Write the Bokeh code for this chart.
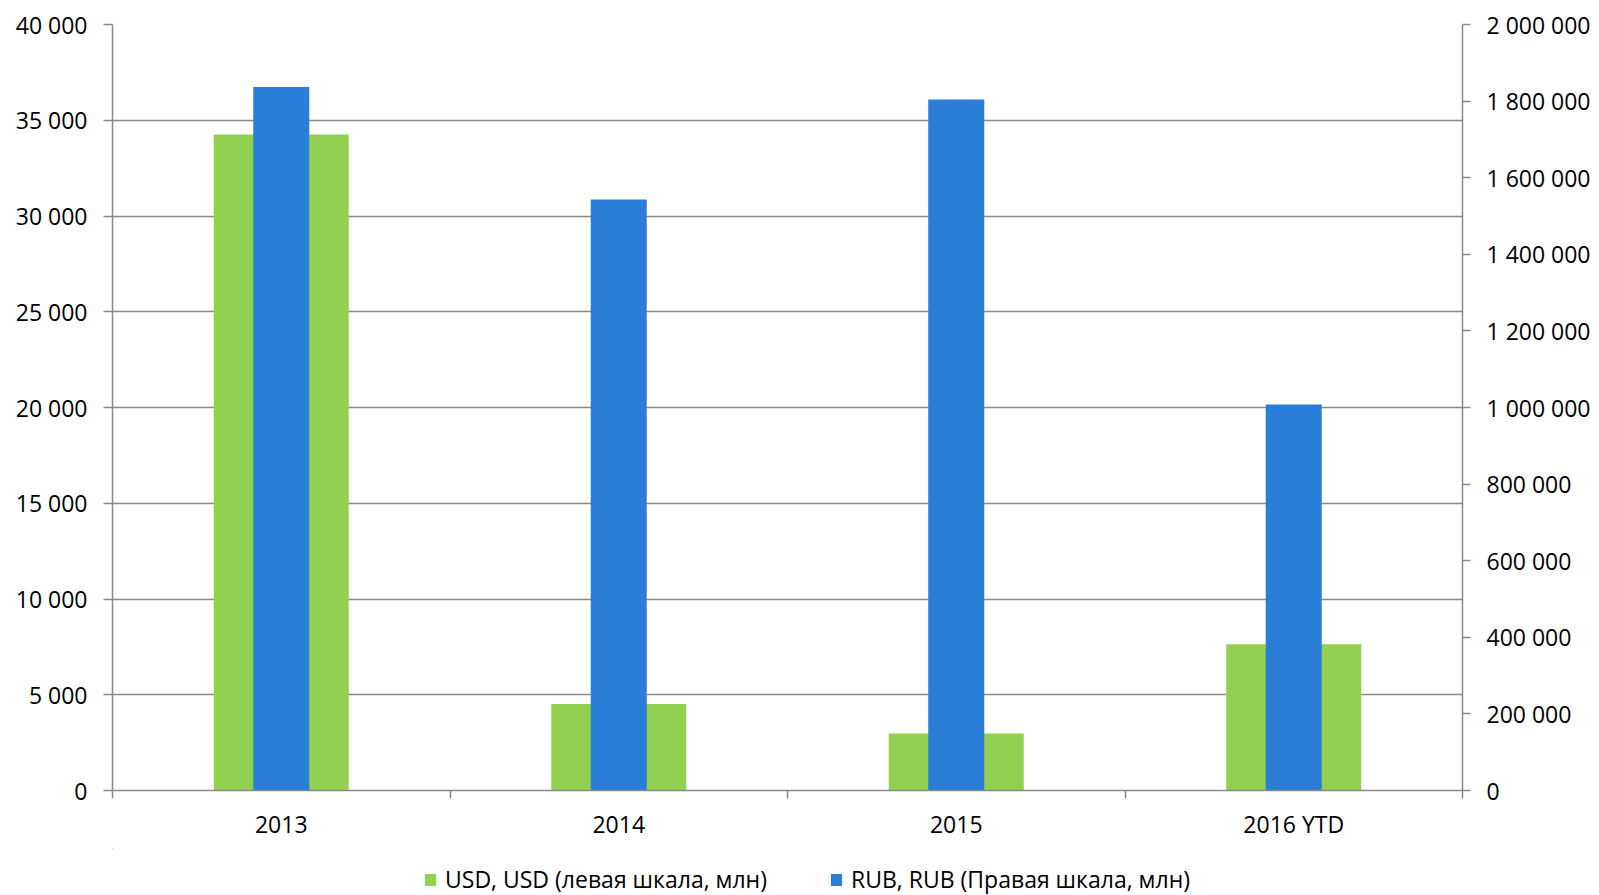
from bokeh.plotting import figure
from bokeh.layouts import column
from bokeh.models import Range1d, LinearAxis, FixedTicker, Legend, LegendItem, ColumnDataSource
from bokeh.embed import file_html
from bokeh.resources import INLINE

categories = ["2013", "2014", "2015", "2016 YTD"]
usd_values = [34250, 4520, 2970, 7640]
rub_values = [1837000, 1543000, 1804000, 1008000]
left_ticks = [0, 5000, 10000, 15000, 20000, 25000, 30000, 35000, 40000]
right_ticks = [0, 200000, 400000, 600000, 800000, 1000000, 1200000, 1400000, 1600000, 1800000, 2000000]
usd_label = "USD, USD (левая шкала, млн)"
rub_label = "RUB, RUB (Правая шкала, млн)"

FONT = "Open Sans"
FSIZE = "23px"
GRAY = "#898989"
GREEN = "#92D050"
BLUE = "#2B7ED7"


def fmt(v):
    return f"{v:,}".replace(",", " ")


x_pos = [i + 0.5 for i in range(len(categories))]
src = ColumnDataSource(dict(x=x_pos, usd=usd_values, rub=rub_values, cat=categories))

p = figure(width=1599, height=848, output_backend="svg", toolbar_location=None,
           x_range=Range1d(0, len(categories)), y_range=Range1d(0, 40000),
           min_border_left=112, min_border_right=137, min_border_top=24, min_border_bottom=58)
p.extra_y_ranges = {"rub": Range1d(0, 2000000)}
p.outline_line_color = None
p.background_fill_color = "white"
p.border_fill_color = "white"
p.xgrid.visible = False
p.ygrid.ticker = FixedTicker(ticks=left_ticks)
p.ygrid.grid_line_color = GRAY
p.ygrid.grid_line_width = 1.5

usd_r = p.vbar(x="x", top="usd", width=0.4, source=src, fill_color=GREEN, line_color=None)
rub_r = p.vbar(x="x", top="rub", width=0.166, source=src, fill_color=BLUE, line_color=None,
               y_range_name="rub")

# bottom category axis
xa = p.xaxis[0]
xa.ticker = FixedTicker(ticks=x_pos, minor_ticks=list(range(len(categories) + 1)))
xa.major_label_overrides = {x: c for x, c in zip(x_pos, categories)}
xa.major_tick_line_color = None
xa.major_tick_out = 0
xa.major_tick_in = 0
xa.minor_tick_line_color = GRAY
xa.minor_tick_line_width = 1.5
xa.minor_tick_out = 8
xa.minor_tick_in = 0
xa.axis_line_color = GRAY
xa.axis_line_width = 1.5
xa.major_label_standoff = 9
xa.major_label_text_font = FONT
xa.major_label_text_font_size = FSIZE
xa.major_label_text_color = "black"

# left axis
ya = p.yaxis[0]
ya.ticker = FixedTicker(ticks=left_ticks)
ya.major_label_overrides = {v: fmt(v) for v in left_ticks}
ya.minor_tick_line_color = None
ya.major_tick_line_color = GRAY
ya.major_tick_line_width = 1.5
ya.major_tick_out = 9
ya.major_tick_in = 0
ya.axis_line_color = GRAY
ya.axis_line_width = 1.5
ya.major_label_standoff = 16
ya.major_label_text_font = FONT
ya.major_label_text_font_size = FSIZE
ya.major_label_text_color = "black"

# right axis
ra = LinearAxis(y_range_name="rub", ticker=FixedTicker(ticks=right_ticks))
ra.major_label_overrides = {v: fmt(v) for v in right_ticks}
ra.minor_tick_line_color = None
ra.major_tick_line_color = GRAY
ra.major_tick_line_width = 1.5
ra.major_tick_out = 8
ra.major_tick_in = 0
ra.axis_line_color = GRAY
ra.axis_line_width = 1.5
ra.major_label_standoff = 16
ra.major_label_text_font = FONT
ra.major_label_text_font_size = FSIZE
ra.major_label_text_color = "black"
p.add_layout(ra, "right")

# legend strip (second figure, sharing the data source; bars lie far outside its ranges)
lp = figure(width=1599, height=47, output_backend="svg", toolbar_location=None,
            x_range=Range1d(100, 101), y_range=Range1d(-2, -1),
            min_border_left=0, min_border_right=0, min_border_top=0, min_border_bottom=0)
lp.xaxis.visible = False
lp.yaxis.visible = False
lp.xgrid.visible = False
lp.ygrid.visible = False
lp.outline_line_color = None
lp.background_fill_color = "white"
lp.border_fill_color = "white"
lg_usd = lp.vbar(x="x", top="usd", width=0.4, source=src, fill_color=GREEN, line_color=None)
lg_rub = lp.vbar(x="x", top="rub", width=0.166, source=src, fill_color=BLUE, line_color=None)


def make_legend(label, rend, loc):
    return Legend(items=[LegendItem(label=label, renderers=[rend])], location=loc,
                  orientation="horizontal", padding=0, margin=0, spacing=0,
                  border_line_color=None, background_fill_alpha=0,
                  glyph_width=14, glyph_height=15, label_standoff=8,
                  label_text_font=FONT, label_text_font_size=FSIZE, label_text_color="black")


lp.add_layout(make_legend(usd_label, lg_usd, (311, 0)))
lp.add_layout(make_legend(rub_label, lg_rub, (717, 0)))

layout = column(p, lp, spacing=0)
open("out.html", "w").write(file_html(layout, INLINE))
